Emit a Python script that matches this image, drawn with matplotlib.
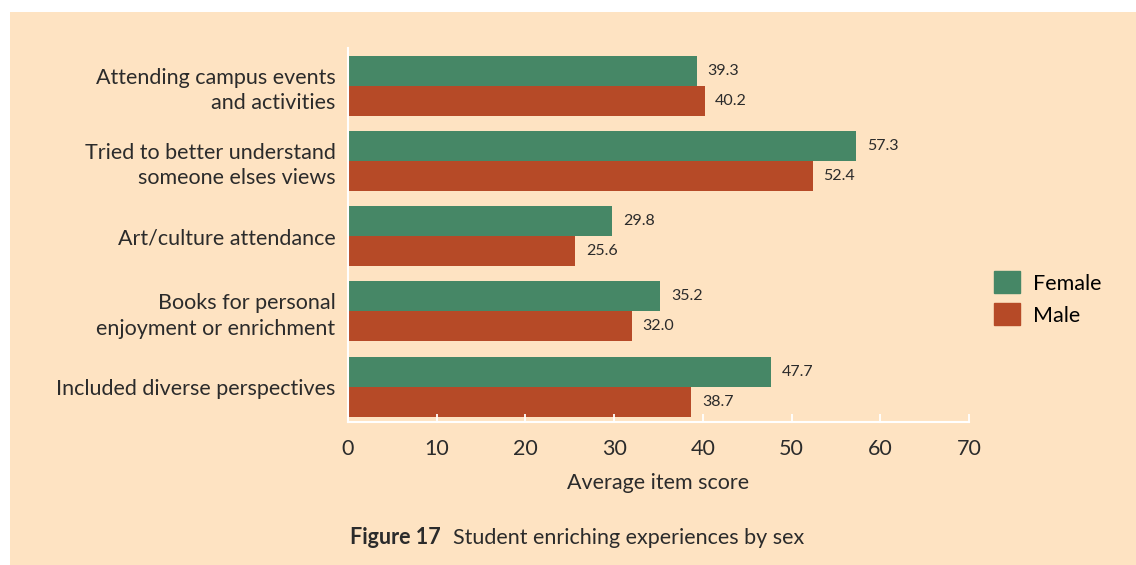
import matplotlib.pyplot as plt
import numpy as np
from matplotlib.patches import Rectangle, Patch

plt.rcParams['font.family'] = ['Lato', 'DejaVu Sans']

categories = ['Attending campus events\nand activities',
              'Tried to better understand\nsomeone elses views',
              'Art/culture attendance',
              'Books for personal\nenjoyment or enrichment',
              'Included diverse perspectives']
female = [39.3, 57.3, 29.8, 35.2, 47.7]
male = [40.2, 52.4, 25.6, 32.0, 38.7]
xticks = [0, 10, 20, 30, 40, 50, 60, 70]

bg = '#FEE3C2'
green = '#468766'
red = '#B64A27'
txt = '#2b2b2b'

fig = plt.figure(figsize=(11.36, 5.65), dpi=100)
fig.patch.set_facecolor('white')
fig.patches.append(Rectangle((10/1136, 0), 1, 1 - 12/565, transform=fig.transFigure,
                             facecolor=bg, edgecolor='none', zorder=-10))
ax = fig.add_axes([348/1136, 1 - 422/565, (969 - 348)/1136, (422 - 48)/565])
ax.set_facecolor(bg)
ax.patch.set_alpha(0)

y = np.arange(len(categories))
h = 0.4
ax.barh(y - h/2, female, height=h, color=green, label='Female')
ax.barh(y + h/2, male, height=h, color=red, label='Male')

for yi, f, m in zip(y, female, male):
    ax.text(f + 1.2, yi - h/2, f'{f:.1f}', va='center', ha='left', fontsize=11.5, color=txt)
    ax.text(m + 1.2, yi + h/2, f'{m:.1f}', va='center', ha='left', fontsize=11.5, color=txt)

ax.set_ylim(len(categories) - 0.53, -0.5)
ax.set_xlim(0, 70)
ax.set_yticks(y)
ax.set_yticklabels(categories, fontsize=15.5, color=txt, linespacing=1.35)
ax.set_xticks(xticks)
ax.set_xticklabels([str(t) for t in xticks], fontsize=15.5, color=txt)
ax.tick_params(axis='y', length=0, pad=9)
ax.tick_params(axis='x', direction='in', length=6, color='white', width=1.3, pad=12)
for s in ['top', 'right']:
    ax.spines[s].set_visible(False)
ax.spines['left'].set_color('white')
ax.spines['bottom'].set_color('white')
ax.spines['left'].set_linewidth(1.5)
ax.spines['bottom'].set_linewidth(1.5)

ax.set_xlabel('Average item score', fontsize=15.5, color=txt, labelpad=10)

handles = [Patch(color=green, label='Female'), Patch(color=red, label='Male')]
fig.legend(handles=handles, loc='upper left', bbox_to_anchor=(975/1136, 1 - 252/565),
           frameon=False, fontsize=15.5, handlelength=1.2, handleheight=1.2,
           handletextpad=0.6, labelspacing=0.45)

fig.text(350/1136, 1 - 538/565, 'Figure 17', fontsize=15.5, fontweight='bold',
         color=txt, va='center', ha='left')
fig.text(453/1136, 1 - 538/565, 'Student enriching experiences by sex', fontsize=15.5,
         color=txt, va='center', ha='left')

fig.savefig('out.png', dpi=100, facecolor=fig.get_facecolor())
